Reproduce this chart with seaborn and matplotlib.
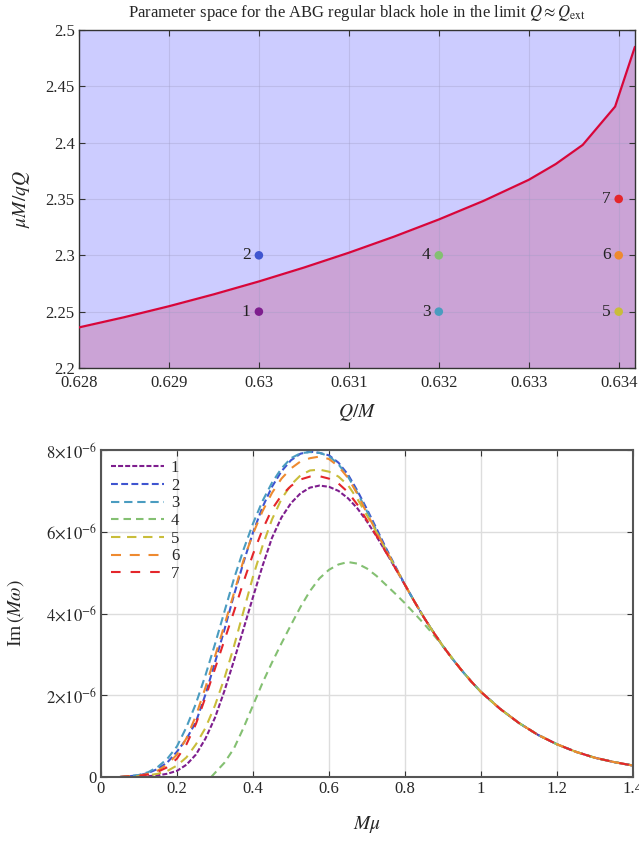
import numpy as np
import pandas as pd
import matplotlib
matplotlib.use("Agg")
import matplotlib.pyplot as plt
import seaborn as sns

# ---------------- data: top panel ----------------
q_over_m = [0.628, 0.6285, 0.629, 0.6295, 0.630, 0.6305, 0.631, 0.6315, 0.632,
            0.6325, 0.633, 0.6333, 0.6336, 0.63396, 0.63418]
mu_ratio = [2.236, 2.245, 2.2548, 2.2654, 2.2768, 2.2891, 2.3023, 2.3165, 2.3318,
            2.3484, 2.367, 2.381, 2.398, 2.432, 2.485]

pt_labels = ["1", "2", "3", "4", "5", "6", "7"]
pt_q = [0.630, 0.630, 0.632, 0.632, 0.634, 0.634, 0.634]
pt_mu = [2.25, 2.30, 2.25, 2.30, 2.25, 2.30, 2.35]

top_xticks = [0.628, 0.629, 0.630, 0.631, 0.632, 0.633, 0.634]
top_xticklabels = ["0.628", "0.629", "0.63", "0.631", "0.632", "0.633", "0.634"]
top_yticks = [2.2, 2.25, 2.3, 2.35, 2.4, 2.45, 2.5]
top_yticklabels = ["2.2", "2.25", "2.3", "2.35", "2.4", "2.45", "2.5"]

# ---------------- data: bottom panel (Im values in units of 1e-6) ----------------
# rising part, Mmu = 0.05 ... 0.775 (step 0.025)
m_mu_head = [0.05, 0.075, 0.10, 0.125, 0.15, 0.175, 0.20, 0.225, 0.25, 0.275,
             0.30, 0.325, 0.35, 0.375, 0.40, 0.425, 0.45, 0.475, 0.50, 0.525,
             0.55, 0.575, 0.60, 0.625, 0.65, 0.675, 0.70, 0.725, 0.75, 0.775]
im_1 = [0, .005, .01, .02, .04, .08, .15, .30, .55, .94, 1.45, 2.11, 2.85, 3.62,
        4.40, 5.16, 5.85, 6.35, 6.70, 6.94, 7.08, 7.13, 7.10, 7.00, 6.82, 6.57,
        6.25, 5.89, 5.50, 5.10]
im_2 = [0, .02, .04, .10, .20, .36, .62, .93, 1.35, 2.02, 2.80, 3.61, 4.45, 5.25,
        5.98, 6.60, 7.10, 7.48, 7.75, 7.91, 7.96, 7.93, 7.87, 7.69, 7.40, 7.00,
        6.55, 6.08, 5.60, 5.15]
im_3 = [0, .02, .05, .12, .25, .45, .75, 1.22, 1.80, 2.49, 3.25, 4.05, 4.85, 5.56,
        6.20, 6.75, 7.20, 7.55, 7.80, 7.92, 7.95, 7.93, 7.85, 7.65, 7.35, 6.95,
        6.50, 6.03, 5.55, 5.12]
im_5 = [0, .01, .02, .04, .08, .15, .28, .48, .80, 1.20, 1.75, 2.42, 3.20, 4.05,
        4.90, 5.65, 6.30, 6.80, 7.15, 7.38, 7.50, 7.52, 7.47, 7.35, 7.14, 6.80,
        6.40, 5.99, 5.55, 5.13]
im_6 = [0, .02, .03, .08, .16, .31, .55, .95, 1.50, 2.19, 2.95, 3.72, 4.50, 5.30,
        5.95, 6.50, 6.95, 7.30, 7.55, 7.72, 7.80, 7.84, 7.78, 7.60, 7.32, 6.92,
        6.45, 6.00, 5.55, 5.12]
im_7 = [0, .015, .03, .06, .13, .24, .45, .80, 1.30, 1.95, 2.65, 3.35, 4.05, 4.77,
        5.45, 6.05, 6.55, 6.89, 7.12, 7.28, 7.35, 7.36, 7.30, 7.18, 6.97, 6.66,
        6.28, 5.90, 5.50, 5.10]
# common decaying part, Mmu = 0.8 ... 1.4
m_mu_tail = [0.80, 0.825, 0.85, 0.875, 0.90, 0.925, 0.95, 0.975, 1.00, 1.05, 1.10,
             1.15, 1.20, 1.25, 1.30, 1.35, 1.40]
im_tail = [4.70, 4.29, 3.90, 3.54, 3.20, 2.89, 2.60, 2.33, 2.08, 1.67, 1.32, 1.03,
           0.80, 0.615, 0.47, 0.365, 0.28]
# curve 4 starts later
m_mu_4 = [0.29, 0.30, 0.325, 0.35, 0.375, 0.40, 0.425, 0.45, 0.475, 0.50, 0.525,
          0.55, 0.575, 0.60, 0.625, 0.65, 0.675, 0.70, 0.725, 0.75, 0.775, 0.80,
          0.825, 0.85, 0.875, 0.90, 0.925, 0.95]
im_4 = [0, .10, .35, .70, 1.20, 1.75, 2.30, 2.80, 3.27, 3.72, 4.16, 4.55, 4.86,
        5.07, 5.20, 5.26, 5.22, 5.10, 4.92, 4.70, 4.48, 4.25, 4.00, 3.75, 3.48,
        3.20, 2.90, 2.60]

curves = {"1": (m_mu_head + m_mu_tail, im_1 + im_tail),
          "2": (m_mu_head + m_mu_tail, im_2 + im_tail),
          "3": (m_mu_head + m_mu_tail, im_3 + im_tail),
          "4": (m_mu_4 + m_mu_tail[7:], im_4 + im_tail[7:]),
          "5": (m_mu_head + m_mu_tail, im_5 + im_tail),
          "6": (m_mu_head + m_mu_tail, im_6 + im_tail),
          "7": (m_mu_head + m_mu_tail, im_7 + im_tail)}

bot_xticks = [0, 0.2, 0.4, 0.6, 0.8, 1.0, 1.2, 1.4]
bot_xticklabels = ["0", "0.2", "0.4", "0.6", "0.8", "1", "1.2", "1.4"]
bot_yticks = [0, 2e-6, 4e-6, 6e-6, 8e-6]
bot_yticklabels = ["0", r"$2{\times}10^{-6}$", r"$4{\times}10^{-6}$",
                   r"$6{\times}10^{-6}$", r"$8{\times}10^{-6}$"]

colors = {"1": "#7e1e8e", "2": "#3f55d0", "3": "#4a9cc0", "4": "#84c072",
          "5": "#c9bd3a", "6": "#ee8a30", "7": "#e4262b"}
dash_styles = {"1": (2.4, 1.0), "2": (3.3, 1.6), "3": (4.0, 2.3), "4": (3.6, 2.4),
               "5": (4.5, 3.2), "6": (4.8, 4.2), "7": (4.6, 4.8)}

# ---------------- style ----------------
sns.set_style("ticks")
plt.rcParams["font.family"] = ["Liberation Serif", "DejaVu Serif"]
plt.rcParams["mathtext.fontset"] = "stix"
plt.rcParams["xtick.direction"] = "in"
plt.rcParams["ytick.direction"] = "in"

fig = plt.figure(figsize=(6.39, 8.44), dpi=100)

# ---------------- top panel ----------------
ax1 = fig.add_axes([0.1236, 0.564, 0.870, 0.4005])
ax1.fill_between(q_over_m, mu_ratio, 2.5, color="#ccccff", lw=0, zorder=0.5)
ax1.fill_between(q_over_m, 2.2, mu_ratio, color="#cba3d6", lw=0, zorder=0.5)
ax1.grid(True, color="#9f9cc4", alpha=0.35, lw=0.8, zorder=0.8)
sns.lineplot(x=q_over_m, y=mu_ratio, ax=ax1, color="#d8063a", lw=1.6, zorder=3)
pts = pd.DataFrame({"q": pt_q, "mu": pt_mu, "lab": pt_labels})
sns.scatterplot(data=pts, x="q", y="mu", hue="lab", palette=colors, s=38,
                edgecolor="none", legend=False, ax=ax1, zorder=4)
for lab, qx, my in zip(pt_labels, pt_q, pt_mu):
    ax1.annotate(lab, (qx, my), xytext=(-6, 0), textcoords="offset points",
                 ha="right", va="center", fontsize=12.5, color="#222222")
ax1.set_xlim(0.628, 0.63418)
ax1.set_ylim(2.2, 2.5)
ax1.set_xticks(top_xticks)
ax1.set_xticklabels(top_xticklabels)
ax1.set_yticks(top_yticks)
ax1.set_yticklabels(top_yticklabels)
ax1.tick_params(labelsize=12, top=True, right=True, length=4, width=0.8,
                color="#333333", pad=3)
ax1.tick_params(axis="x", pad=5)
ax1.set_xlabel(r"$Q/M$", fontsize=14, labelpad=8)
ax1.set_ylabel(r"$\mu M/qQ$", fontsize=14, labelpad=10)
ax1.set_title(r"Parameter space for the ABG regular black hole in the limit $Q\approx Q_{\rm ext}$",
              fontsize=12, pad=9)
for s in ax1.spines.values():
    s.set_color("#333333")
    s.set_linewidth(1.0)

# ---------------- bottom panel ----------------
ax2 = fig.add_axes([0.158, 0.0794, 0.8326, 0.3874])
rows = []
for lab, (xs, ys) in curves.items():
    for xv, yv in zip(xs, ys):
        rows.append({"Mmu": xv, "Im": yv * 1e-6, "curve": lab})
df = pd.DataFrame(rows)
sns.lineplot(data=df, x="Mmu", y="Im", hue="curve", style="curve",
             palette=colors, dashes=dash_styles, lw=1.5, ax=ax2,
             estimator=None, sort=True)
ax2.grid(True, color="#dddddd", lw=1.0)
ax2.set_axisbelow(True)
ax2.set_xlim(0, 1.4)
ax2.set_ylim(0, 8e-6)
ax2.set_xticks(bot_xticks)
ax2.set_xticklabels(bot_xticklabels)
ax2.set_yticks(bot_yticks)
ax2.set_yticklabels(bot_yticklabels)
ax2.tick_params(labelsize=12, top=True, right=True, length=4, width=0.8,
                color="#333333", pad=3)
ax2.set_xlabel(r"$M\mu$", fontsize=14, labelpad=12)
ax2.set_ylabel(r"Im$\,(M\omega)$", fontsize=14, labelpad=14)
for s in ax2.spines.values():
    s.set_color("#555555")
    s.set_linewidth(1.5)
h, l = ax2.get_legend_handles_labels()
ax2.legend(h, l, loc="upper left", frameon=False, fontsize=12,
           handlelength=3.2, labelspacing=0.1, handletextpad=0.4,
           borderaxespad=0.3, borderpad=0.3)

fig.savefig("out.png", dpi=100)
